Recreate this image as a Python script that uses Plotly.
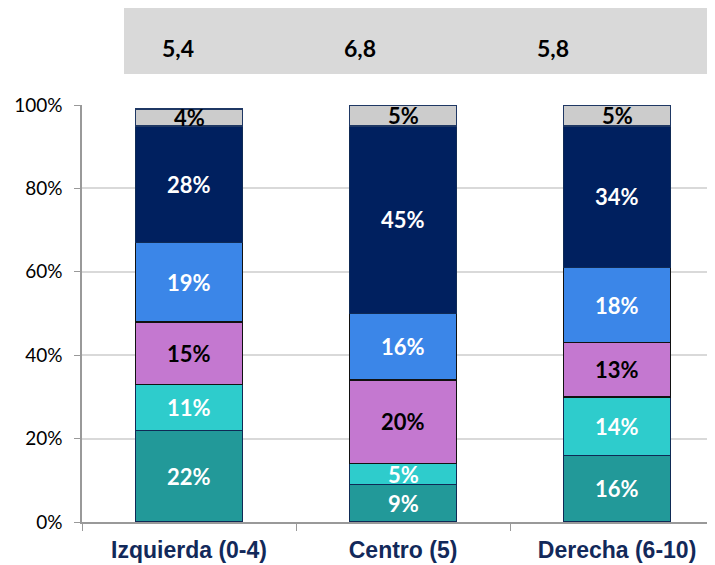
import plotly.graph_objects as go

categories = ["Izquierda (0-4)", "Centro (5)", "Derecha (6-10)"]
mean_scores = ["5,4", "6,8", "5,8"]
series_names = ["S1", "S2", "S3", "S4", "S5", "S6"]
s1 = [22, 9, 16]
s2 = [11, 5, 14]
s3 = [15, 20, 13]
s4 = [19, 16, 18]
s5 = [28, 45, 34]
s6 = [4, 5, 5]
series_values = [s1, s2, s3, s4, s5, s6]
y_ticks = [0, 20, 40, 60, 80, 100]

colors = ["#229999", "#2ECCCC", "#C478D0", "#3B86E8", "#00205F", "#CCCCCC"]
label_colors = ["white", "white", "black", "white", "white", "black"]
outline = ["#0F2A55", "#0F2A55", "#111111", "#111111", "#0F2A55", "#1F3864"]

# layout positions of the mean-score row (paper coords, not data)
score_row_x = [0.1498, 0.4337, 0.7348]

fig = go.Figure()
for name, vals, c, oc in zip(series_names, series_values, colors, outline):
    fig.add_trace(go.Bar(
        x=categories, y=vals, name=name, width=0.5,
        marker=dict(color=c, line=dict(color=oc, width=1.5)),
        textposition="none", hoverinfo="y",
    ))

annotations = []
for i, cat in enumerate(categories):
    base = 0
    for j, vals in enumerate(series_values):
        v = vals[i]
        annotations.append(dict(
            x=cat, y=base + v / 2, xref="x", yref="y", text=f"<b>{v}%</b>",
            showarrow=False, xanchor="center", yanchor="middle",
            font=dict(family="Lato", size=22, color=label_colors[j]),
        ))
        base += v
    annotations.append(dict(
        x=score_row_x[i], y=1.137, xref="paper", yref="paper",
        text=f"<b>{mean_scores[i]}</b>",
        showarrow=False, xanchor="center", yanchor="middle",
        font=dict(family="Lato", size=23, color="black"),
    ))

fig.update_layout(
    barmode="stack",
    width=715, height=565,
    margin=dict(l=74, r=0, t=97, b=51, autoexpand=False),
    plot_bgcolor="white", paper_bgcolor="white",
    showlegend=False,
    annotations=annotations,
    shapes=[dict(type="rect", xref="paper", yref="paper",
                 x0=0.0655, x1=1.02, y0=1.0743, y1=1.25,
                 fillcolor="#D9D9D9", line=dict(width=0), layer="below")],
    xaxis=dict(
        type="category", range=[-0.5, 2.495],
        tickson="boundaries", ticks="outside", ticklen=7, tickcolor="#999999",
        showline=True, linecolor="#999999", linewidth=1.5,
        showgrid=False, ticklabelstandoff=7,
        tickfont=dict(family="Liberation Sans", size=23, color="#12295A"),
        tickprefix="<b>", ticksuffix="</b>",
    ),
    yaxis=dict(
        range=[0, 100], tickvals=y_ticks,
        ticktext=[f"{t}%" for t in y_ticks],
        ticks="outside", ticklen=6, tickcolor="#999999",
        showline=True, linecolor="#999999", linewidth=1.5,
        showgrid=True, gridcolor="#D9D9D9", gridwidth=1.5,
        ticklabelstandoff=8,
        tickfont=dict(family="Lato", size=19, color="black"),
        zeroline=False,
    ),
)

fig.write_html("out.html")
